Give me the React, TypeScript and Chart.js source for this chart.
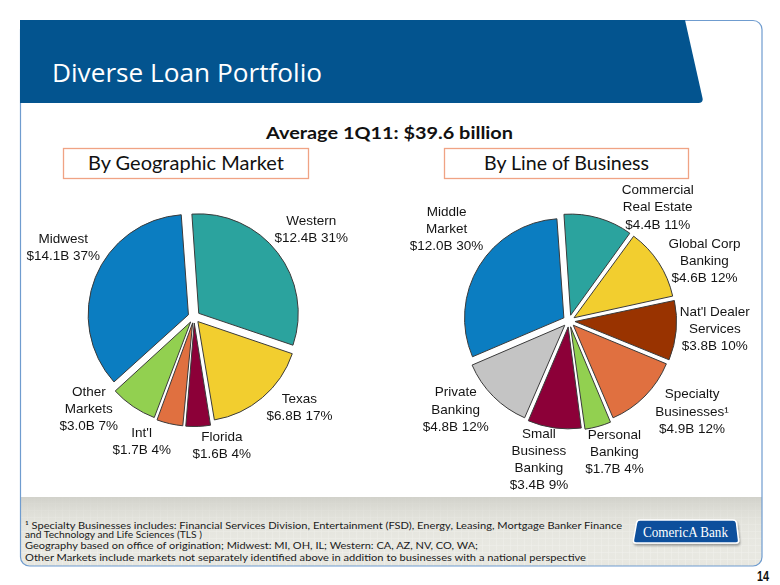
import React, { useEffect, useRef } from "react";
import { Chart, registerables } from "chart.js";

Chart.register(...registerables);

// ---------- Data ----------
const geoNames: string[][] = [["Western"], ["Texas"], ["Florida"], ["Int'l"], ["Other", "Markets"], ["Midwest"]];
const geoValues: number[] = [12.4, 6.8, 1.6, 1.7, 3.0, 14.1];
const geoPercents: number[] = [31, 17, 4, 4, 7, 37];

const lobNames: string[][] = [
  ["Commercial", "Real Estate"],
  ["Global Corp", "Banking"],
  ["Nat'l Dealer", "Services"],
  ["Specialty", "Businesses\u00B9"],
  ["Personal", "Banking"],
  ["Small", "Business", "Banking"],
  ["Private", "Banking"],
  ["Middle", "Market"],
];
const lobValues: number[] = [4.4, 4.6, 3.8, 4.9, 1.7, 3.4, 4.8, 12.0];
const lobPercents: number[] = [11, 12, 10, 12, 4, 9, 12, 30];

// ---------- Styles ----------
const C_BLUE = "#0B7DC1";
const C_TEAL = "#2BA39E";
const C_YELLOW = "#F2CE2F";
const C_MAROON = "#8C0038";
const C_ORANGE = "#E07040";
const C_GREEN = "#92D050";
const C_BROWN = "#993300";
const C_GREY = "#C4C4C4";

const geoColors = [C_TEAL, C_YELLOW, C_MAROON, C_ORANGE, C_GREEN, C_BLUE];
const lobColors = [C_TEAL, C_YELLOW, C_BROWN, C_ORANGE, C_GREEN, C_MAROON, C_GREY, C_BLUE];

// label placement (layout only): angle nudge (deg) and distance beyond radius
const geoLabelNudge = [1, -9, -10, 10, 14.5, 6];
const geoLabelDist = [47, 40, 33, 36, 41, 49];
const lobLabelNudge = [22, 9.3, -1.8, -8.2, -3.7, 4.4, 6.8, 5.4];
const lobLabelDist = [45, 49, 47, 54, 40, 43, 45, 54];

const labelPlugin = {
  id: "sliceLabels",
  afterDatasetsDraw(chart: any, _args: any, opts: any) {
    const ctx = chart.ctx as CanvasRenderingContext2D;
    const meta = chart.getDatasetMeta(0);
    ctx.save();
    ctx.font = "13.5px 'Liberation Sans', Arial, sans-serif";
    ctx.fillStyle = "#141414";
    ctx.textAlign = "center";
    ctx.textBaseline = "middle";
    const lh = 17.3;
    meta.data.forEach((arc: any, i: number) => {
      const p = arc.getProps(["x", "y", "startAngle", "endAngle", "outerRadius"], true);
      const mid = (p.startAngle + p.endAngle) / 2 + ((opts.nudges[i] || 0) * Math.PI) / 180;
      const d = p.outerRadius + (opts.dists[i] || 40);
      const cx = p.x + Math.cos(mid) * d;
      const cy = p.y + Math.sin(mid) * d;
      const lines: string[] = opts.lines[i];
      const n = lines.length;
      lines.forEach((t, k) => {
        ctx.fillText(t, cx, cy + (k - (n - 1) / 2) * lh);
      });
    });
    ctx.restore();
  },
};

type PieProps = {
  names: string[][];
  values: number[];
  percents: number[];
  colors: string[];
  nudges: number[];
  dists: number[];
  left: number;
  top: number;
  width: number;
  height: number;
  padding: { left: number; right: number; top: number; bottom: number };
};

function PieChart(props: PieProps) {
  const ref = useRef<HTMLCanvasElement | null>(null);
  useEffect(() => {
    if (!ref.current) return;
    const lines = props.names.map((n, i) => [...n, `$${props.values[i].toFixed(1)}B ${props.percents[i]}%`]);
    const chart = new Chart(ref.current, {
      type: "pie",
      data: {
        labels: props.names.map((n) => n.join(" ")),
        datasets: [
          {
            data: props.values,
            backgroundColor: props.colors,
            borderColor: "#3a3a3a",
            borderWidth: 1,
            offset: 24,
            radius: 99,
            rotation: -4,
          } as any,
        ],
      },
      options: {
        responsive: false,
        animation: false,
        events: [],
        rotation: -4,
        radius: 99,
        layout: { padding: props.padding },
        plugins: {
          legend: { display: false },
          tooltip: { enabled: false },
          sliceLabels: { lines, nudges: props.nudges, dists: props.dists },
        } as any,
      } as any,
      plugins: [labelPlugin as any],
    });
    return () => chart.destroy();
  }, []);
  return (
    <canvas
      ref={ref}
      width={props.width}
      height={props.height}
      style={{ position: "absolute", left: props.left, top: props.top, width: props.width, height: props.height }}
    />
  );
}

const footLines = [
  "\u00B9 Specialty Businesses includes:  Financial Services Division, Entertainment (FSD), Energy, Leasing, Mortgage Banker Finance",
  "and Technology and Life Sciences (TLS )",
  "Geography based on office of origination; Midwest: MI, OH, IL;  Western: CA, AZ, NV, CO, WA;",
  "Other Markets include markets not separately identified above in addition to businesses with a national perspective",
];

export default function App() {
  return (
    <div style={{ position: "fixed", left: 0, top: 0, width: 780, height: 585, background: "#fff", overflow: "hidden" }}>
      <svg width={780} height={585} style={{ position: "absolute", left: 0, top: 0 }}>
        <defs>
          <pattern id="grid" width="7" height="7" patternUnits="userSpaceOnUse">
            <rect width="7" height="7" fill="#E7E7E0" />
            <path d="M7 0 V7 M0 7 H7" stroke="#F1F1EC" strokeWidth="1" />
          </pattern>
          <linearGradient id="footShade" x1="0" y1="0" x2="0" y2="1">
            <stop offset="0" stopColor="#CFCFC8" stopOpacity="0.9" />
            <stop offset="0.35" stopColor="#DADAD3" stopOpacity="0.3" />
            <stop offset="1" stopColor="#FFFFFF" stopOpacity="0" />
          </linearGradient>
          <filter id="sh" x="-20%" y="-30%" width="140%" height="170%">
            <feDropShadow dx="1" dy="2" stdDeviation="1.2" floodColor="#000" floodOpacity="0.35" />
          </filter>
        </defs>
        {/* footer */}
        <path d="M20 497 H762 V556 Q762 566 752 566 H30 Q20 566 20 556 Z" fill="url(#grid)" />
        <path d="M20 497 H762 V556 Q762 566 752 566 H30 Q20 566 20 556 Z" fill="url(#footShade)" />
        {/* frame */}
        <rect x={20.5} y={20.5} width={741.5} height={545.5} rx={9} ry={9} fill="none" stroke="#6F9CCF" strokeWidth={1.2} />
        {/* header */}
        <path d="M20 20 H685 L702.5 98 Q703.5 103 698.5 103 H20 Z" fill="#03548F" />
        <text x={52} y={82} fontFamily="'Open Sans', sans-serif" fontSize={26} fill="#fff" textLength={270} lengthAdjust="spacingAndGlyphs">
          Diverse Loan Portfolio
        </text>
        {/* subtitle */}
        <text x={266} y={138.5} fontFamily="Lato, sans-serif" fontWeight="bold" fontSize={17.5} fill="#111" textLength={247} lengthAdjust="spacingAndGlyphs">
          Average 1Q11: $39.6 billion
        </text>
        {/* boxes */}
        <rect x={63.5} y={148.5} width={245} height={30} fill="#fff" stroke="#F0A384" strokeWidth={1.3} />
        <text x={88} y={169.5} fontFamily="Lato, sans-serif" fontSize={19} fill="#111" textLength={196} lengthAdjust="spacingAndGlyphs">
          By Geographic Market
        </text>
        <rect x={444.5} y={148.5} width={244} height={30} fill="#fff" stroke="#F0A384" strokeWidth={1.3} />
        <text x={484} y={169.5} fontFamily="Lato, sans-serif" fontSize={19} fill="#111" textLength={165} lengthAdjust="spacingAndGlyphs">
          By Line of Business
        </text>
        {/* footnotes */}
        <text x={25} y={529} fontFamily="Lato, sans-serif" fontSize={9.6} fill="#1a1a1a" textLength={597} lengthAdjust="spacingAndGlyphs">
          {footLines[0]}
        </text>
        <text x={25} y={538.3} fontFamily="Lato, sans-serif" fontSize={9.6} fill="#1a1a1a" textLength={177} lengthAdjust="spacingAndGlyphs">
          {footLines[1]}
        </text>
        <text x={25} y={549.3} fontFamily="Lato, sans-serif" fontSize={9.6} fill="#1a1a1a" textLength={453} lengthAdjust="spacingAndGlyphs">
          {footLines[2]}
        </text>
        <text x={25} y={561} fontFamily="Lato, sans-serif" fontSize={9.6} fill="#1a1a1a" textLength={561} lengthAdjust="spacingAndGlyphs">
          {footLines[3]}
        </text>
        {/* logo */}
        <path d="M640 520 H733 Q736 520 736.5 523 L738.5 540 Q739 543 736 543 H636 Q633 543 633.5 540 L636.5 523 Q637 520 640 520 Z" fill="#0B4F9C" stroke="#fff" strokeWidth={1.5} filter="url(#sh)" />
        <text x={643} y={536.5} fontFamily="'Liberation Serif', 'DejaVu Serif', serif" fontSize={15} fill="#fff" textLength={85} lengthAdjust="spacingAndGlyphs">
          ComericA Bank
        </text>
        {/* page number */}
        <text x={757} y={581} fontFamily="'Liberation Sans', Arial, sans-serif" fontWeight="bold" fontSize={14} fill="#111" textLength={12} lengthAdjust="spacingAndGlyphs">
          14
        </text>
      </svg>
      <PieChart
        names={geoNames}
        values={geoValues}
        percents={geoPercents}
        colors={geoColors}
        nudges={geoLabelNudge}
        dists={geoLabelDist}
        left={20}
        top={175}
        width={370}
        height={320}
        padding={{ left: 0, right: 22, top: 0, bottom: 36 }}
      />
      <PieChart
        names={lobNames}
        values={lobValues}
        percents={lobPercents}
        colors={lobColors}
        nudges={lobLabelNudge}
        dists={lobLabelDist}
        left={390}
        top={175}
        width={372}
        height={320}
        padding={{ left: 0, right: 14, top: 0, bottom: 28 }}
      />
    </div>
  );
}
